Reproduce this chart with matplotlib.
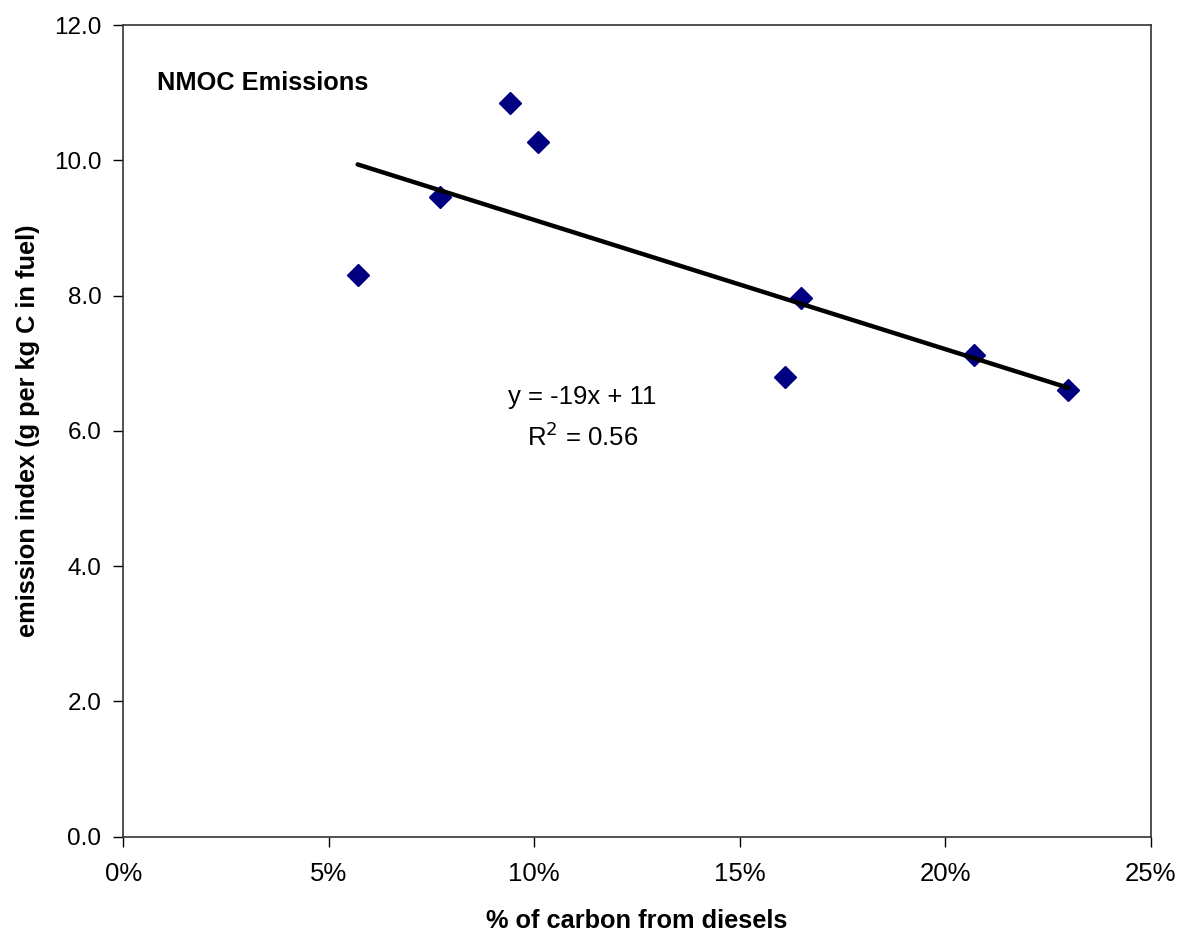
import numpy as np
import matplotlib.pyplot as plt
from matplotlib.ticker import FuncFormatter

# share of carbon from diesels (fraction) and NMOC emission index
diesel_share = [0.057, 0.077, 0.094, 0.101, 0.161, 0.165, 0.207, 0.230]
emission_index = [8.30, 9.46, 10.85, 10.27, 6.80, 7.97, 7.12, 6.60]

x_ticks = [0, 0.05, 0.10, 0.15, 0.20, 0.25]
y_ticks = [0, 2, 4, 6, 8, 10, 12]

plt.rcParams['font.family'] = ['Liberation Sans', 'DejaVu Sans']

fig = plt.figure(figsize=(11.93, 9.34), dpi=100)
ax = fig.add_axes([0.1035, 0.1042, 0.8609, 0.869])

ax.plot(diesel_share, emission_index, linestyle='none', marker='D',
        markersize=11.5, color='#000080', markeredgewidth=1, zorder=3)

# linear trendline (least squares)
slope, intercept = np.polyfit(diesel_share, emission_index, 1)
pred = np.polyval([slope, intercept], diesel_share)
r2 = 1 - np.sum((np.array(emission_index) - pred) ** 2) / np.sum((np.array(emission_index) - np.mean(emission_index)) ** 2)
xs = np.array([min(diesel_share), max(diesel_share)])
ax.plot(xs, slope * xs + intercept, color='black', linewidth=3.2, solid_capstyle='round', zorder=4)

ax.text(0.1117, 6.50, 'y = %dx + %d' % (round(slope), round(intercept)), ha='center', va='center', fontsize=18.5)
ax.text(0.1117, 5.91, 'R$^2$ = %.2f' % r2, ha='center', va='center', fontsize=18.5)

ax.text(0.0082, 11.15, 'NMOC Emissions', fontsize=18.3, fontweight='bold', va='center', ha='left')

ax.set_xlim(0, 0.25)
ax.set_ylim(0, 12)
ax.set_xticks(x_ticks)
ax.set_yticks(y_ticks)
ax.xaxis.set_major_formatter(FuncFormatter(lambda v, p: '%d%%' % round(v * 100)))
ax.yaxis.set_major_formatter(FuncFormatter(lambda v, p: '%.1f' % v))
ax.tick_params(direction='out', length=7, width=1, labelsize=18.5, pad=11)
ax.tick_params(axis='y', pad=9, labelsize=17.5)

for s in ax.spines.values():
    s.set_linewidth(1.2)
    s.set_color('#333333')

ax.set_xlabel('% of carbon from diesels', fontsize=18.3, fontweight='bold', labelpad=17)
ax.set_ylabel('emission index (g per kg C in fuel)', fontsize=18.3, fontweight='bold', labelpad=10)

fig.savefig('out.png', dpi=100)
